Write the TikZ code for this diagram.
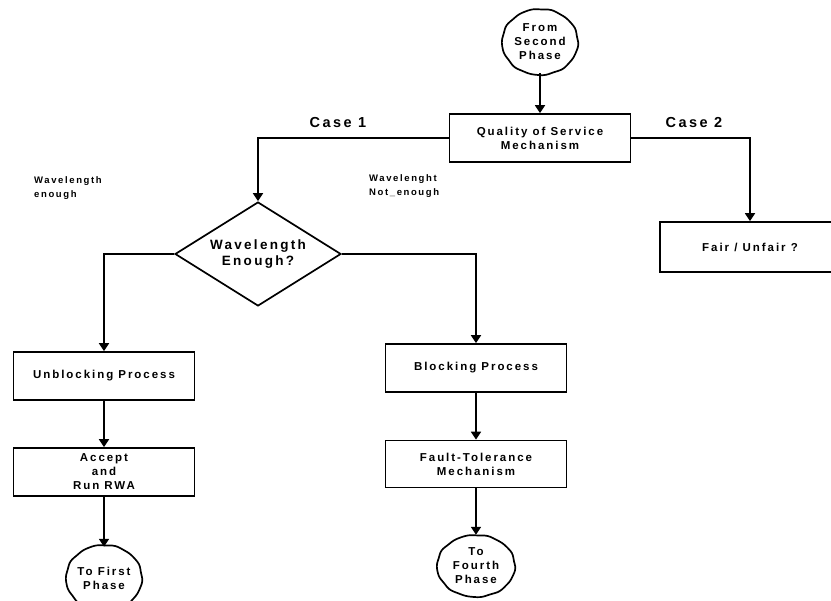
\documentclass[tikz,border=0pt]{standalone}
\usepackage{fontspec}
\setmainfont{Liberation Sans}
\newfontfamily\boxfont[LetterSpace=17]{Liberation Sans}
\usetikzlibrary{shapes.geometric,arrows.meta}

\tikzset{
  base/.style={font={\boxfont\bfseries\fontsize{11.5}{14}\selectfont}, align=center, inner sep=0pt},
  procbox/.style={base, draw, line width=1.7pt, minimum width=181pt, minimum height=48pt},
  decision/.style={base, draw, line width=1.7pt, shape=diamond, aspect=1.66,
    minimum width=166pt, minimum height=104pt, font={\boxfont\bfseries\fontsize{13.5}{15.5}\selectfont}},
  terminal/.style={base, shape=ellipse, minimum width=76pt, minimum height=62pt},
  wavy/.style={line width=1.7pt},
  arr/.style={line width=1.7pt, -{Triangle[length=8pt,width=10pt]}},
  caselabel/.style={font={\boxfont\bfseries\fontsize{14.5}{16}\selectfont}, inner sep=0pt},
  branchlabel/.style={font={\boxfont\bfseries\fontsize{9.5}{13.5}\selectfont}, align=left, inner sep=0pt, anchor=west},
}

% slightly irregular hand-drawn outline around a terminal node
\newcommand\wobble[3]{%
  \draw[wavy, shift={(#1.center)}] plot[domain=0:360, samples=90, smooth cycle]
    ({#2*(1+0.008*sin(9*\x)+0.006*sin(14*\x+40))*cos(\x)},
     {#3*(1+0.008*sin(9*\x)+0.006*sin(14*\x+40))*sin(\x)});}

\begin{document}
\begin{tikzpicture}[x=1pt, y=-1pt]
\useasboundingbox (0,0) rectangle (831,601);
\fill[white] (0,0) rectangle (831,601);
\clip (0,0) rectangle (831,601);

% nodes
\node[terminal] (start) at (540,42) {From\\Second\\Phase};
\wobble{start}{38}{33}
\node[procbox] (qos) at (540,138) {Quality of Service\\Mechanism};
\node[decision] (dec) at (258,254) {Wavelength\\Enough?};
\node[procbox, minimum width=180pt, minimum height=50pt] (fair) at (750,247) {Fair / Unfair ?};
\node[procbox] (unb) at (104,376) {Unblocking Process};
\node[procbox] (acc) at (104,472) {Accept\\and\\Run RWA};
\node[terminal] (first) at (104,578) {To First\\Phase};
\wobble{first}{38}{33}
\node[procbox] (blk) at (476,368) {Blocking Process};
\node[procbox, minimum height=47pt] (fault) at (476,464) {Fault-Tolerance\\Mechanism};
\node[terminal] (fourth) at (476,566) {To\\Fourth\\Phase};
\wobble{fourth}{39}{31}

% labels
\node[caselabel] (c1) at (338,123) {Case 1};
\node[caselabel] (c2) at (694,123) {Case 2};
\node[branchlabel] (lenough) at (34,188) {Wavelength\\enough};
\node[branchlabel] (lnot) at (369,186) {Wavelenght\\Not\_enough};

% connectors
\draw[arr] (start) -- (qos);
\draw[arr] (qos.west) -| (dec.north);
\draw[arr] (qos.east) -| (fair.north);
\draw[arr] (dec.west) -| (unb.north);
\draw[arr] (dec.east) -| (blk.north);
\draw[arr] (unb) -- (acc);
\draw[arr] (acc) -- (first);
\draw[arr] (blk) -- (fault);
\draw[arr] (fault) -- (fourth);
\end{tikzpicture}
\end{document}
